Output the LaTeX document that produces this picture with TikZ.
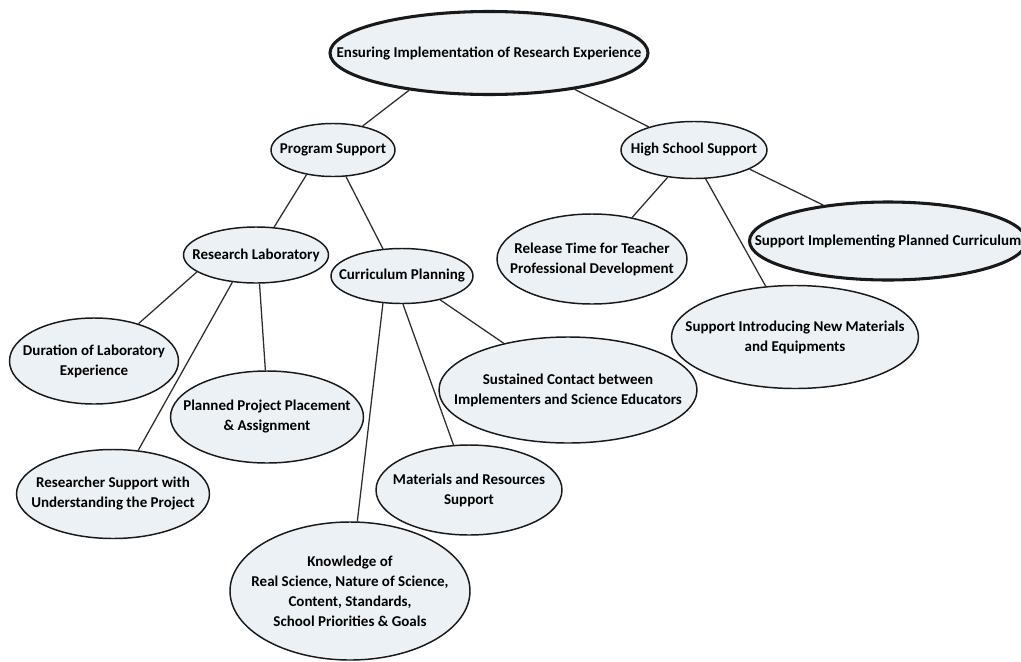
\documentclass[tikz,border=0pt]{standalone}
\usepackage{fontspec}
\setmainfont{Carlito}
\usetikzlibrary{shapes.geometric}
\definecolor{bubblefill}{RGB}{235,241,245}
\definecolor{inkline}{RGB}{25,25,25}
\definecolor{inklink}{RGB}{45,45,45}
\begin{document}
\begin{tikzpicture}[x=0.75pt,y=-0.75pt,
  bub/.style 2 args={ellipse, draw=inkline, line width=1.1pt, fill=bubblefill,
    inner sep=0pt, minimum width=#1*0.75pt, minimum height=#2*0.75pt},
  heavy/.style={line width=2.3pt},
  lbl/.style={align=center, inner sep=0pt, text=black,
    font=\bfseries\fontsize{11.25}{15}\selectfont},
  link/.style={draw=inklink, line width=0.95pt}]
\useasboundingbox (0,0) rectangle (1021,661);
\clip (0,0) rectangle (1021,661);

% root
\node[bub={318}{83}, heavy] (root) at (489,53) {};
\node[lbl] (root-t) at (root) {Ensuring Implementation of Research Experience};

% second level
\node[bub={124}{53}] (prog) at (333,150) {};
\node[lbl] (prog-t) at (prog) {Program Support};
\node[bub={146}{57}] (hs) at (694,150) {};
\node[lbl] (hs-t) at (hs) {High School Support};

% program support branch
\node[bub={145}{56}] (lab) at (256,255) {};
\node[lbl] (lab-t) at (lab) {Research Laboratory};
\node[bub={142}{55}] (cur) at (402,276) {};
\node[lbl] (cur-t) at (cur) {Curriculum Planning};

\node[bub={169}{86}] (dur) at (94,361) {};
\node[lbl] (dur-t) at (dur) {Duration of Laboratory\\Experience};
\node[bub={193}{92}] (plan) at (267,417) {};
\node[lbl] (plan-t) at (plan) {Planned Project Placement\\\& Assignment};
\node[bub={193}{89}] (res) at (113,494) {};
\node[lbl] (res-t) at (res) {Researcher Support with\\Understanding the Project};

\node[bub={258}{106}] (sus) at (568,390) {};
\node[lbl] (sus-t) at (sus) {Sustained Contact between\\Implementers and Science Educators};
\node[bub={186}{90}] (mat) at (469,490) {};
\node[lbl] (mat-t) at (mat) {Materials and Resources\\Support};
\node[bub={240}{138}] (know) at (350,591) {};
\node[lbl] (know-t) at (know) {Knowledge of\\Real Science, Nature of Science,\\Content, Standards,\\School Priorities \& Goals};

% high school support branch
\node[bub={190}{90}] (rel) at (592,259) {};
\node[lbl] (rel-t) at (rel) {Release Time for Teacher\\Professional Development};
\node[bub={277}{78}, heavy] (impl) at (888,241) {};
\node[lbl] (impl-t) at (impl) {Support Implementing Planned Curriculum};
\node[bub={247}{103}] (intro) at (795,337) {};
\node[lbl] (intro-t) at (intro) {Support Introducing New Materials\\and Equipments};

% connectors
\draw[link] (root.205) -- (prog.39);
\draw[link] (root.337) -- (hs.153);
\draw[link] (prog.223.5) -- (lab.57);
\draw[link] (prog.296) -- (cur.125);
\draw[link] (lab.196) -- (dur.40);
\draw[link] (lab.229) -- (res.60);
\draw[link] (lab.277) -- (plan.92.5);
\draw[link] (cur.235) -- (know.84.5);
\draw[link] (cur.272.6) -- (mat.109);
\draw[link] (cur.328) -- (sus.144.6);
\draw[link] (hs.226) -- (rel.46.6);
\draw[link] (hs.292) -- (intro.120.5);
\draw[link] (hs.341.8) -- (impl.151);
\end{tikzpicture}
\end{document}
